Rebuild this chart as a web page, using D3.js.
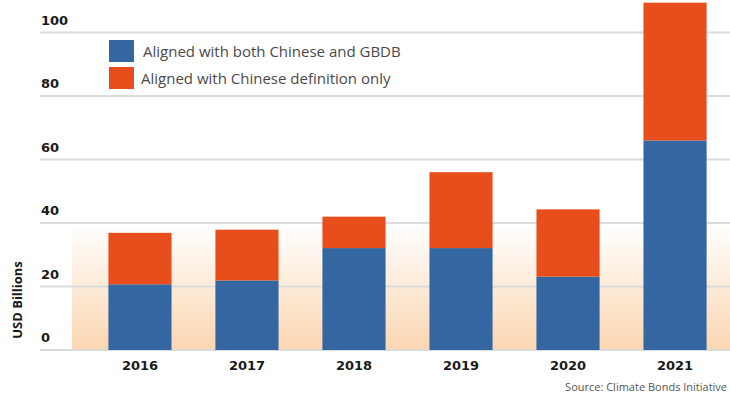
<!DOCTYPE html>
<html><head><meta charset="utf-8">
<script src="https://cdn.jsdelivr.net/npm/d3@7"></script>
<style>body{margin:0;background:#fff}svg{display:block}</style>
</head><body>
<svg id="c" width="730" height="396"></svg>
<script>
const years = ["2016","2017","2018","2019","2020","2021"];
const bothAligned = [20.7, 21.9, 32.1, 32.1, 23.1, 66.0];
const chineseOnly = [16.2, 16.0, 9.9, 23.9, 21.2, 43.4];
const yTicks = [0, 20, 40, 60, 80, 100];
const seriesNames = ["Aligned with both Chinese and GBDB", "Aligned with Chinese definition only"];
const colors = ["#3466A1", "#E84E1B"];

const svg = d3.select("#c");
const y = d3.scaleLinear().domain([0, 100]).range([350, 32.5]);
const x = d3.scaleBand().domain(years).range([87, 728]).paddingInner(0.41).paddingOuter(0.2);

const defs = svg.append("defs");
const g = defs.append("linearGradient").attr("id","bg").attr("x1",0).attr("x2",0).attr("y1",0).attr("y2",1);
g.append("stop").attr("offset","0%").attr("stop-color","#ffffff");
g.append("stop").attr("offset","100%").attr("stop-color","#FBD6B1");
svg.append("rect").attr("x",72).attr("y",y(39.5)).attr("width",730-72).attr("height",y(0)-y(39.5)).attr("fill","url(#bg)");

// gridlines
svg.append("g").selectAll("line").data(yTicks).join("line")
  .attr("x1",40).attr("x2",730).attr("y1",d=>y(d)).attr("y2",d=>y(d))
  .attr("stroke","#dcdcdc").attr("stroke-width",2);
svg.append("g").selectAll("text").data(yTicks).join("text")
  .attr("x",41).attr("y",d=>y(d)-8).text(d=>d)
  .attr("font-family","DejaVu Sans").attr("font-weight","bold").attr("font-size",13).attr("fill","#1a1a1a");

// stacked bars
const data = years.map((yr,i)=>({year:yr, both:bothAligned[i], cn:chineseOnly[i]}));
const stack = d3.stack().keys(["both","cn"])(data);
svg.append("g").selectAll("g").data(stack).join("g").attr("fill",(d,i)=>colors[i])
  .selectAll("rect").data(d=>d).join("rect")
  .attr("x",d=>x(d.data.year)).attr("width",x.bandwidth())
  .attr("y",d=>y(d[1])).attr("height",d=>y(d[0])-y(d[1]));

// x labels
svg.append("g").selectAll("text").data(years).join("text")
  .attr("x",d=>x(d)+x.bandwidth()/2).attr("y",370).attr("text-anchor","middle").text(d=>d)
  .attr("font-family","DejaVu Sans").attr("font-weight","bold").attr("font-size",13).attr("fill","#1a1a1a");

// y title
svg.append("text").attr("transform","translate(22,300) rotate(-90)").attr("text-anchor","middle")
  .text("USD Billions").attr("font-family","Open Sans").attr("font-weight","bold").attr("font-size",13).attr("fill","#1a1a1a");

// legend
const lg = svg.append("g");
seriesNames.forEach((n,i)=>{
  lg.append("rect").attr("x",109).attr("y",40+i*27).attr("width",25).attr("height",22).attr("fill",colors[i]);
  lg.append("text").attr("x",i===0?143:141).attr("y",57+i*27).text(n)
    .attr("font-family","Open Sans").attr("font-size",15).attr("fill","#4a4a4a");
});

// source
svg.append("text").attr("x",727).attr("y",391).attr("text-anchor","end").text("Source: Climate Bonds Initiative")
  .attr("font-family","Open Sans").attr("font-size",11).attr("fill","#555");
</script>
</body></html>
